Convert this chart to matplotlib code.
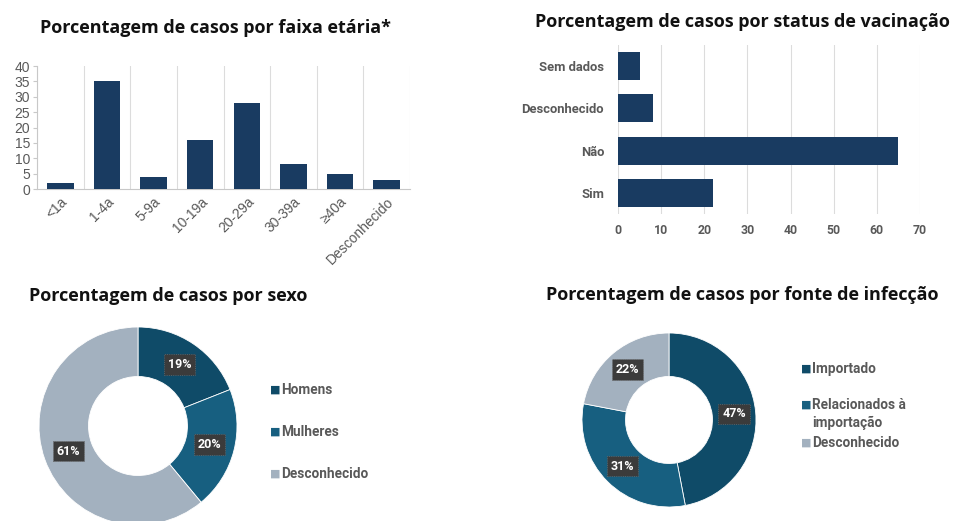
"""
Four-panel summary of case percentages: age group, vaccination status,
sex and source of infection.
"""

import matplotlib.pyplot as plt

W, H = 955, 521

# age group bars
age_labels = ["<1a", "1-4a", "5-9a", "10-19a", "20-29a", "30-39a", "≥40a", "Desconhecido"]
age_values = [2, 35, 4, 16, 28, 8, 5, 3]

# vaccination status (bottom to top)
vac_labels = ["Sim", "Não", "Desconhecido", "Sem dados"]
vac_values = [22, 65, 8, 5]

# sex donut
sex_labels = ["Homens", "Mulheres", "Desconhecido"]
sex_values = [19, 20, 61]

# source of infection donut
src_labels = ["Importado", "Relacionados à\nimportação", "Desconhecido"]
src_values = [47, 31, 22]

NAVY = "#193b61"
DONUT_COLORS = ["#0f4b68", "#175f80", "#a3b1bf"]
GREY_TXT = "#595959"
GRID = "#dcdcdc"
TITLE_FONT = dict(family="Open Sans", weight="bold", size=13, color="#111111")


def px_axes(fig, left, top, right, bottom):
    return fig.add_axes([left / W, 1 - bottom / H, (right - left) / W, (bottom - top) / H])


def donut(fig, cx, cy, r, values, labels, legend_x, legend_ys):
    ax = px_axes(fig, cx - r, cy - r, cx + r, cy + r)
    wedges, _, autotexts = ax.pie(
        values,
        colors=DONUT_COLORS,
        startangle=90,
        counterclock=False,
        radius=1,
        autopct="%.0f%%",
        pctdistance=0.75,
        wedgeprops=dict(width=0.5, edgecolor="white", linewidth=0.6),
    )
    for t in autotexts:
        t.set_color("white")
        t.set_family("Roboto")
        t.set_weight("bold")
        t.set_fontsize(9)
        t.set_bbox(dict(boxstyle="square,pad=0.3", fc="#3b3b3b", ec="#6a6a6a", lw=0.6, ls=":"))
    ax.set_xlim(-1, 1)
    ax.set_ylim(-1, 1)
    for w, lab, y in zip(wedges, labels, legend_ys):
        fig.text(legend_x / W, 1 - y / H, "■", color=w.get_facecolor(),
                 family="DejaVu Sans", fontsize=8, va="center", ha="left")
        first_line = 1 - y / H
        fig.text((legend_x + 11) / W, first_line + 0.013, lab, color=GREY_TXT,
                 family="Roboto", weight="bold", fontsize=9.8, va="top", ha="left",
                 linespacing=1.3)
    return ax


def main():
    fig = plt.figure(figsize=(W / 100, H / 100), dpi=100)

    # --- age group bars
    ax1 = px_axes(fig, 37, 66, 410, 189)
    ax1.bar(range(len(age_values)), age_values, width=0.57, color=NAVY, zorder=3)
    ax1.set_xlim(-0.5, len(age_values) - 0.5)
    ax1.set_ylim(0, 40)
    ax1.set_yticks(range(0, 41, 5))
    ax1.set_xticks(range(len(age_labels)))
    ax1.set_xticklabels(age_labels, rotation=45, ha="right", rotation_mode="anchor")
    for x in range(len(age_labels) + 1):
        ax1.axvline(x - 0.5, color=GRID, lw=0.8, zorder=1)
    for s in ["top", "right"]:
        ax1.spines[s].set_visible(False)
    for s in ["left", "bottom"]:
        ax1.spines[s].set_color("#c8c8c8")
    ax1.tick_params(axis="y", colors=GREY_TXT, labelsize=10, length=3, color="#c8c8c8", pad=2)
    ax1.tick_params(axis="x", colors=GREY_TXT, labelsize=10, length=0, pad=4)
    for t in ax1.get_xticklabels() + ax1.get_yticklabels():
        t.set_family("Liberation Sans")
    fig.text(215 / W, 1 - 28 / H, "Porcentagem de casos por faixa etária*",
             ha="center", va="center", **TITLE_FONT)

    # --- vaccination status bars
    ax2 = px_axes(fig, 618, 45, 920, 214)
    ax2.barh(range(len(vac_values)), vac_values, height=0.66, color=NAVY, zorder=3)
    ax2.set_xlim(0, 70)
    ax2.set_ylim(-0.5, len(vac_values) - 0.5)
    ax2.set_xticks(range(0, 71, 10))
    ax2.set_yticks(range(len(vac_labels)))
    ax2.set_yticklabels(vac_labels)
    ax2.grid(axis="x", color=GRID, lw=0.8, zorder=0)
    for s in ax2.spines.values():
        s.set_visible(False)
    ax2.tick_params(axis="both", colors=GREY_TXT, length=0, labelsize=8.8)
    ax2.tick_params(axis="y", labelsize=9.4, pad=10)
    ax2.tick_params(axis="x", pad=7)
    for t in ax2.get_xticklabels() + ax2.get_yticklabels():
        t.set_family("Roboto")
        t.set_weight("bold")
    fig.text(742 / W, 1 - 22 / H, "Porcentagem de casos por status de vacinação",
             ha="center", va="center", **TITLE_FONT)

    # --- sex donut
    fig.text(168 / W, 1 - 296 / H, "Porcentagem de casos por sexo",
             ha="center", va="center", **TITLE_FONT)
    donut(fig, 138, 426, 99, sex_values, sex_labels, 270, [390, 432, 474])

    # --- source donut
    fig.text(742 / W, 1 - 295 / H, "Porcentagem de casos por fonte de infecção",
             ha="center", va="center", **TITLE_FONT)
    donut(fig, 669, 420, 87, src_values, src_labels, 801, [369, 405, 443])

    fig.savefig("out.png", dpi=100, facecolor="white")


if __name__ == "__main__":
    main()
